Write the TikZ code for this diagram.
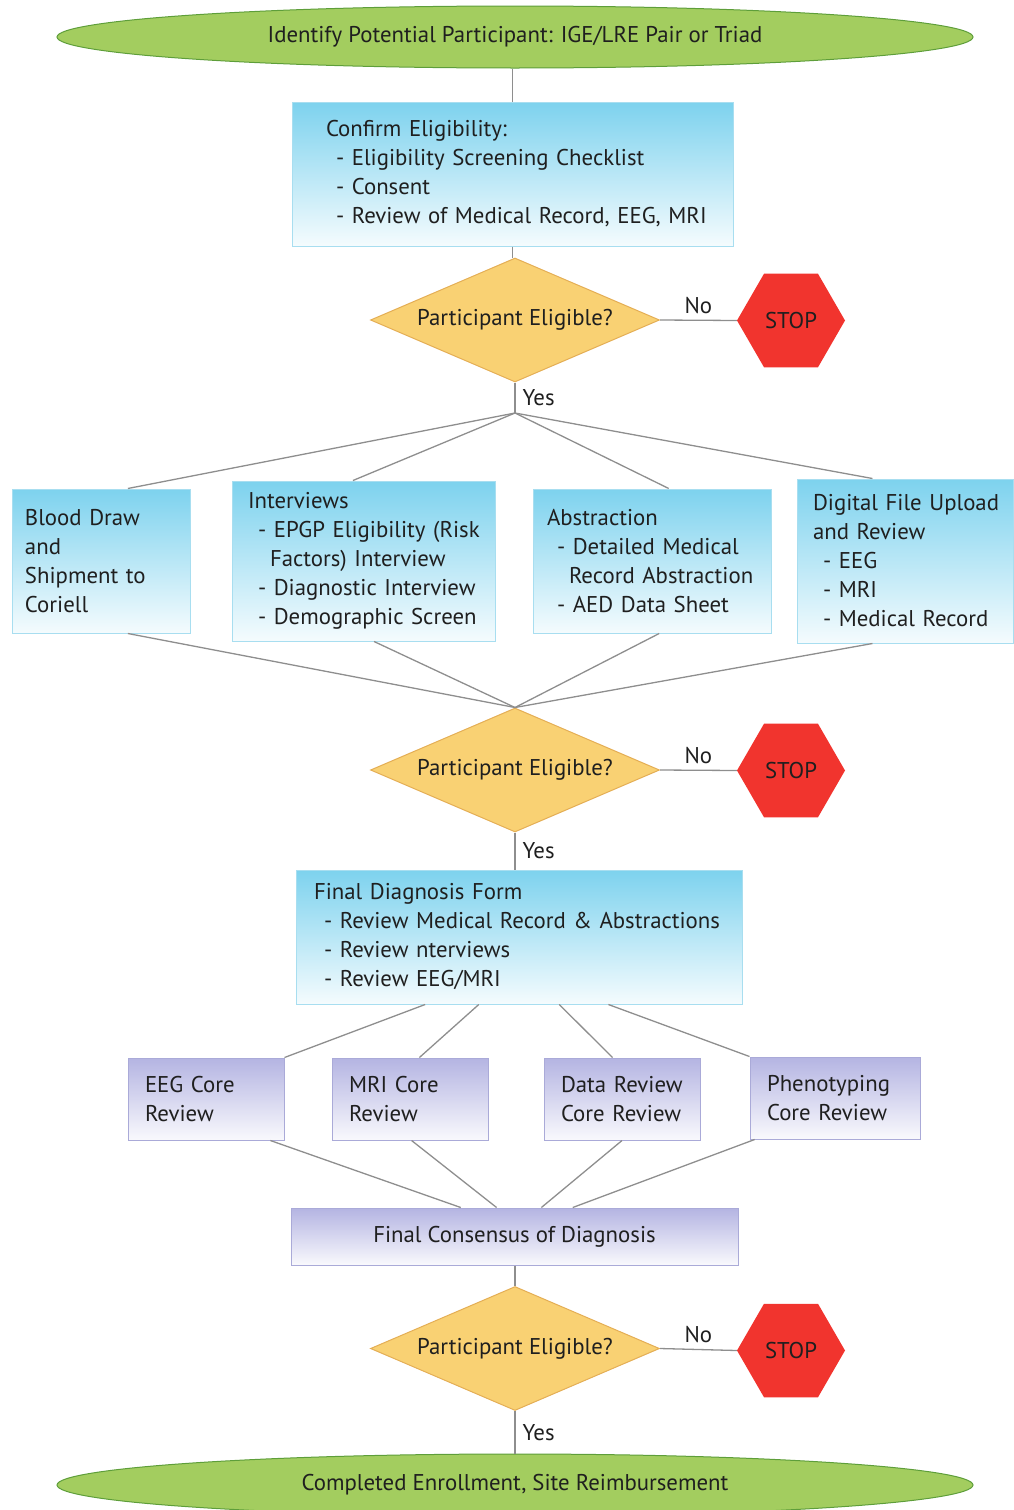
\documentclass[tikz,border=0pt]{standalone}
\usepackage{fontspec}
\setmainfont{PT Sans}
\usepackage{tikz}
\usetikzlibrary{shapes.geometric, positioning, calc}
\definecolor{startgreen}{HTML}{A3CD5F}
\definecolor{startedge}{HTML}{5E9E3A}
\definecolor{stepcyan}{HTML}{7DD2EE}
\definecolor{stepcyanedge}{HTML}{A8DEF0}
\definecolor{coreviolet}{HTML}{B4B4E2}
\definecolor{corevioletedge}{HTML}{AAAAD8}
\definecolor{decisionyellow}{HTML}{F9D173}
\definecolor{decisionedge}{HTML}{E4AE55}
\definecolor{stopred}{HTML}{F1342E}
\definecolor{linkgray}{HTML}{8E8E8E}
\newcommand{\dashitem}{\hspace*{10pt}- }
\newcommand{\dashcont}{\hspace*{22pt}}
\newcommand{\padded}[2]{\leftskip=#1\relax #2\par}

\begin{document}
\begin{tikzpicture}[
  x=1pt, y=-1pt,
  every node/.style={font=\fontsize{22.8}{29}\selectfont, text=black!88},
  terminal/.style={ellipse, draw=startedge, fill=startgreen, line width=1pt, inner sep=0pt, minimum width=916pt, minimum height=62pt},
  stepbox/.style={rectangle, draw=stepcyanedge, top color=stepcyan, bottom color=stepcyan!8, line width=1pt, align=left, inner xsep=0pt, inner ysep=3pt},
  corebox/.style={rectangle, draw=corevioletedge, top color=coreviolet, bottom color=coreviolet!8, line width=1pt, align=left, inner xsep=0pt, inner ysep=3pt},
  decision/.style={diamond, aspect=2.3, draw=decisionedge, fill=decisionyellow, line width=1pt, inner sep=0pt, minimum width=289pt, minimum height=124pt},
  stopsign/.style={regular polygon, regular polygon sides=6, fill=stopred, minimum size=108pt, inner sep=0pt},
  link/.style={draw=linkgray, line width=1.3pt},
  answer/.style={inner sep=0pt}
]
  \useasboundingbox (0,0) rectangle (1013,1510);

  % start and first check
  \node[terminal] (start) at (515,37) {Identify Potential Participant: IGE/LRE Pair or Triad};
  \node[stepbox, text width=441pt, minimum height=144pt] (confirm) at (512.5,174)
    {\padded{34pt}{Confirm Eligibility:\\
     \dashitem Eligibility Screening Checklist\\
     \dashitem Consent\\
     \dashitem Review of Medical Record, EEG, MRI}};
  \node[decision] (elig1) at (515,320) {Participant Eligible?};
  \node[stopsign] (stop1) at (791,320.5) {STOP};
  \coordinate (split1) at (515,413);

  % site activities
  \node[stepbox, text width=178pt, minimum height=144pt] (blood) at (101,561)
    {\padded{13pt}{Blood Draw\\ and\\ Shipment to\\ Coriell}};
  \node[stepbox, text width=263pt, minimum height=160pt] (interviews) at (363.5,561)
    {\padded{16pt}{Interviews\\
     \dashitem EPGP Eligibility (Risk\\
     \dashcont Factors) Interview\\
     \dashitem Diagnostic Interview\\
     \dashitem Demographic Screen}};
  \node[stepbox, text width=238pt, minimum height=144pt] (abstraction) at (652,561)
    {\padded{14pt}{Abstraction\\
     \dashitem Detailed Medical\\
     \dashcont Record Abstraction\\
     \dashitem AED Data Sheet}};
  \node[stepbox, text width=216pt, minimum height=164pt] (upload) at (905,561)
    {\padded{16pt}{Digital File Upload\\ and Review\\
     \dashitem EEG\\
     \dashitem MRI\\
     \dashitem Medical Record}};

  \node[decision] (elig2) at (515,770) {Participant Eligible?};
  \node[stopsign] (stop2) at (791,770.5) {STOP};

  % diagnosis
  \node[stepbox, text width=446pt, minimum height=134pt] (finaldx) at (519,937)
    {\padded{18pt}{Final Diagnosis Form\\
     \dashitem Review Medical Record \& Abstractions\\
     \dashitem Review nterviews\\
     \dashitem Review EEG/MRI}};
  \node[corebox, text width=156pt, minimum height=82pt] (eegcore) at (206,1099) {\padded{17pt}{EEG Core\\ Review}};
  \node[corebox, text width=156pt, minimum height=82pt] (mricore) at (410,1099) {\padded{17pt}{MRI Core\\ Review}};
  \node[corebox, text width=156pt, minimum height=82pt] (datacore) at (622,1099) {\padded{17pt}{Data Review\\ Core Review}};
  \node[corebox, text width=170pt, minimum height=82pt] (phenocore) at (835,1098) {\padded{17pt}{Phenotyping\\ Core Review}};
  \node[corebox, align=center, minimum width=447pt, minimum height=57pt] (consensus) at (514.5,1236.5) {Final Consensus of Diagnosis};

  \node[decision] (elig3) at (515,1348.5) {Participant Eligible?};
  \node[stopsign] (stop3) at (791,1350.5) {STOP};
  \node[terminal] (finish) at (515,1485) {Completed Enrollment, Site Reimbursement};

  % connectors
  \draw[link] (confirm.north |- start.south) -- (confirm.north);
  \draw[link] (confirm.south) -- (confirm.south |- elig1.north);
  \draw[link] (elig1.east) -- node[answer, above=6pt] (no1) {No} (stop1.west);
  \draw[link] (elig1.south) -- node[answer, right=7pt] (yes1) {Yes} (split1);
  \draw[link] (split1) -- ($(blood.north west)!0.65!(blood.north east)$);
  \draw[link] (split1) -- ($(interviews.north west)!0.46!(interviews.north east)$);
  \draw[link] (split1) -- ($(abstraction.north west)!0.57!(abstraction.north east)$);
  \draw[link] (split1) -- ($(upload.north west)!0.35!(upload.north east)$);
  \draw[link] ($(blood.south west)!0.65!(blood.south east)$) -- (elig2.north);
  \draw[link] ($(interviews.south west)!0.54!(interviews.south east)$) -- (elig2.north);
  \draw[link] ($(abstraction.south west)!0.53!(abstraction.south east)$) -- (elig2.north);
  \draw[link] ($(upload.south west)!0.35!(upload.south east)$) -- (elig2.north);
  \draw[link] (elig2.east) -- node[answer, above=6pt] (no2) {No} (stop2.west);
  \draw[link] (elig2.south) -- node[answer, right=7pt] (yes2) {Yes} (elig2.south |- finaldx.north);
  \draw[link] ($(finaldx.south west)!0.29!(finaldx.south east)$) -- (eegcore.north east);
  \draw[link] ($(finaldx.south west)!0.41!(finaldx.south east)$) -- ($(mricore.north west)!0.56!(mricore.north east)$);
  \draw[link] ($(finaldx.south west)!0.59!(finaldx.south east)$) -- ($(datacore.north west)!0.44!(datacore.north east)$);
  \draw[link] ($(finaldx.south west)!0.70!(finaldx.south east)$) -- (phenocore.north west);
  \draw[link] ($(eegcore.south west)!0.91!(eegcore.south east)$) -- ($(consensus.north west)!0.38!(consensus.north east)$);
  \draw[link] ($(mricore.south west)!0.51!(mricore.south east)$) -- ($(consensus.north west)!0.46!(consensus.north east)$);
  \draw[link] ($(datacore.south west)!0.5!(datacore.south east)$) -- ($(consensus.north west)!0.56!(consensus.north east)$);
  \draw[link] ($(phenocore.south west)!0.03!(phenocore.south east)$) -- ($(consensus.north west)!0.63!(consensus.north east)$);
  \draw[link] (elig3.north |- consensus.south) -- (elig3.north);
  \draw[link] (elig3.east) -- node[answer, above=6pt] (no3) {No} (stop3.west);
  \draw[link] (elig3.south) -- node[answer, right=7pt] (yes3) {Yes} (finish.north);
\end{tikzpicture}
\end{document}
